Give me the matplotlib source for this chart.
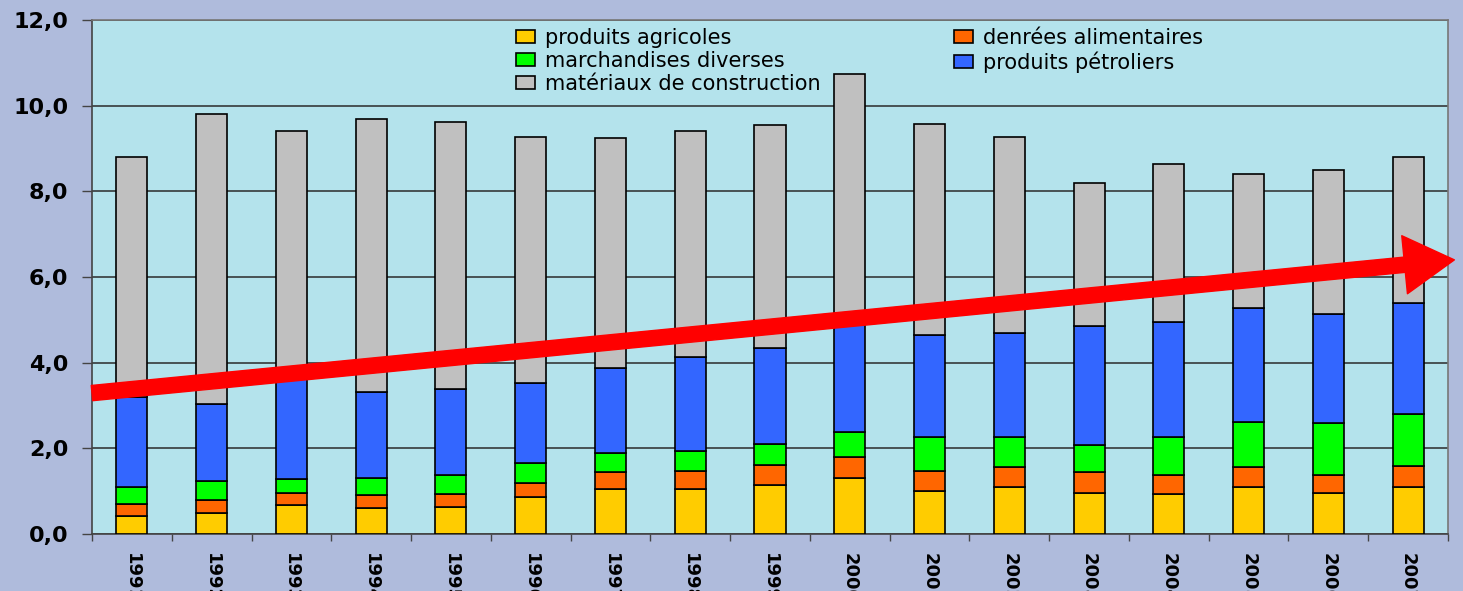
import numpy as np
import matplotlib
matplotlib.use('Agg')
import matplotlib.pyplot as plt

years = ['1991', '1992', '1993', '1994', '1995', '1996', '1997', '1998', '1999',
         '2000', '2001', '2002', '2003', '2004', '2005', '2006', '2007']

agricoles = [0.42, 0.48, 0.68, 0.60, 0.62, 0.86, 1.04, 1.04, 1.14,
             1.30, 1.00, 1.10, 0.96, 0.93, 1.10, 0.95, 1.10]
denrees = [0.28, 0.31, 0.27, 0.30, 0.31, 0.34, 0.40, 0.42, 0.48,
           0.49, 0.48, 0.47, 0.48, 0.44, 0.47, 0.42, 0.49]
marchandises = [0.40, 0.45, 0.33, 0.40, 0.44, 0.45, 0.46, 0.47, 0.47,
                0.58, 0.79, 0.69, 0.63, 0.90, 1.05, 1.23, 1.20]
petroliers = [2.10, 1.80, 2.47, 2.01, 2.01, 1.87, 1.97, 2.21, 2.25,
              2.53, 2.37, 2.43, 2.79, 2.67, 2.66, 2.54, 2.60]
materiaux = [5.60, 6.76, 5.67, 6.39, 6.25, 5.74, 5.38, 5.26, 5.20,
             5.83, 4.94, 4.59, 3.33, 3.70, 3.13, 3.36, 3.41]

yticks = [0, 2, 4, 6, 8, 10, 12]
ytick_labels = ['0,0', '2,0', '4,0', '6,0', '8,0', '10,0', '12,0']

# trend arrow, start / end in data units
arrow_start = (-0.5, 3.29)
arrow_end = (16.58, 6.40)

series = [
    ('produits agricoles', agricoles, '#FFCC00'),
    ('denrées alimentaires', denrees, '#FF6600'),
    ('marchandises diverses', marchandises, '#00FF00'),
    ('produits pétroliers', petroliers, '#3366FF'),
    ('matériaux de construction', materiaux, '#C0C0C0'),
]

fig = plt.figure(figsize=(14.63, 5.91), dpi=100, facecolor='#AFBBDC')
ax = fig.add_axes([92/1463, 57/591, 1356/1463, 514/591])
ax.set_facecolor('#B4E3EC')

x = np.arange(len(years))
bottom = np.zeros(len(years))
handles = {}
for name, vals, col in series:
    b = ax.bar(x, vals, width=0.39, bottom=bottom, color=col,
               edgecolor='black', linewidth=1.2, label=name, zorder=3)
    handles[name] = b
    bottom += np.array(vals)

ax.set_xlim(-0.5, len(years) - 0.5)
ax.set_ylim(0, 12)
ax.set_yticks(yticks)
ax.set_yticklabels(ytick_labels, fontsize=16, fontweight='bold')
ax.yaxis.grid(True, color='#2a2a2a', linewidth=1.1)
ax.set_axisbelow(True)
ax.tick_params(axis='y', length=7, width=1, color='#444444', pad=10)

# year labels run off the bottom edge, as in the original
ax.set_xticks(x)
ax.set_xticklabels(years, rotation=-90, fontsize=13, fontweight='bold',
                   va='top', ha='center')
ax.set_xticks(np.arange(-0.5, len(years)), minor=True)
ax.tick_params(axis='x', which='major', length=0, pad=14)
ax.tick_params(axis='x', which='minor', length=5, width=1, color='#444444')

for s in ['left', 'bottom']:
    ax.spines[s].set_color('#444444')
    ax.spines[s].set_linewidth(1.2)
for s in ['top', 'right']:
    ax.spines[s].set_color('#777777')
    ax.spines[s].set_linewidth(1.2)

order = ['produits agricoles', 'marchandises diverses', 'matériaux de construction',
         'denrées alimentaires', 'produits pétroliers']
leg = ax.legend([handles[n] for n in order], order, ncol=2, frameon=False,
                loc='upper left', bbox_to_anchor=(0.302, 1.013),
                fontsize=15, handlelength=0.9, handleheight=0.6,
                handletextpad=0.5, labelspacing=0.15, columnspacing=6.4,
                borderpad=0.2)
leg.set_zorder(4)

ax.annotate('', xy=arrow_end, xytext=arrow_start, annotation_clip=False,
            arrowprops=dict(arrowstyle='simple,head_length=3.6,head_width=4.2,tail_width=1.1',
                            color='#FF0000', mutation_scale=10,
                            shrinkA=0, shrinkB=0), zorder=5)

plt.savefig('out.png', dpi=100, facecolor=fig.get_facecolor())
